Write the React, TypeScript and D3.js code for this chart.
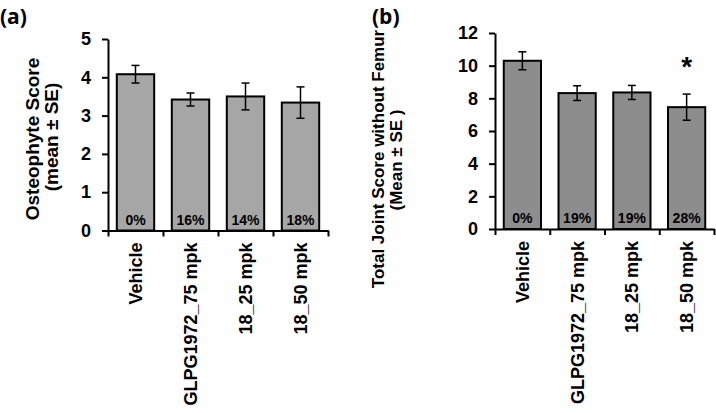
import React, { useRef, useEffect } from "react";
import * as d3 from "d3";

const categories = ["Vehicle", "GLPG1972_75 mpk", "18_25 mpk", "18_50 mpk"];

const osteoMean = [4.08, 3.42, 3.5, 3.34];
const osteoSE = [0.23, 0.17, 0.35, 0.41];
const osteoPct = ["0%", "16%", "14%", "18%"];
const osteoTicks = [0, 1, 2, 3, 4, 5];

const jointMean = [10.3, 8.32, 8.36, 7.46];
const jointSE = [0.55, 0.45, 0.43, 0.8];
const jointPct = ["0%", "19%", "19%", "28%"];
const jointTicks = [0, 2, 4, 6, 8, 10, 12];
const jointStars = ["", "", "", "*"];

const FONT = "'Liberation Sans', Arial, sans-serif";

interface PanelProps {
  tag: string;
  tagX: number;
  means: number[];
  errs: number[];
  pcts: string[];
  stars?: string[];
  ticks: number[];
  yMax: number;
  x0: number;
  x1: number;
  y0: number;
  y1: number;
  fill: string;
  labelLines: string[];
  labelX: number[];
  labelY: number[];
  labelSize: number;
}

const Panel: React.FC<PanelProps> = (p) => {
  const ref = useRef<SVGGElement | null>(null);

  useEffect(() => {
    const g = d3.select(ref.current);
    g.selectAll("*").remove();

    const x = d3.scaleBand<string>().domain(categories).range([p.x0, p.x1]).padding(0);
    const y = d3.scaleLinear().domain([0, p.yMax]).range([p.y0, p.y1]);
    const bw = x.bandwidth() * 0.68;
    const rows = categories.map((c, i) => ({ c, m: p.means[i], e: p.errs[i], pct: p.pcts[i], star: p.stars ? p.stars[i] : "" }));
    const cx = (d: any) => (x(d.c) as number) + x.bandwidth() / 2;

    // barres
    g.selectAll("rect.bar")
      .data(rows)
      .enter()
      .append("rect")
      .attr("x", (d) => cx(d) - bw / 2)
      .attr("y", (d) => y(d.m))
      .attr("width", bw)
      .attr("height", (d) => y(0) - y(d.m))
      .attr("fill", p.fill)
      .attr("stroke", "#000")
      .attr("stroke-width", 2);

    // barres d'erreur
    const eb = g.selectAll("g.err").data(rows).enter().append("g");
    eb.append("line")
      .attr("x1", cx).attr("x2", cx)
      .attr("y1", (d) => y(d.m + d.e)).attr("y2", (d) => y(d.m - d.e))
      .attr("stroke", "#000").attr("stroke-width", 1.5);
    [1, -1].forEach((s) => {
      eb.append("line")
        .attr("x1", (d) => cx(d) - 4).attr("x2", (d) => cx(d) + 4)
        .attr("y1", (d) => y(d.m + s * d.e)).attr("y2", (d) => y(d.m + s * d.e))
        .attr("stroke", "#000").attr("stroke-width", 1.5);
    });

    g.selectAll("text.pct")
      .data(rows)
      .enter()
      .append("text")
      .attr("x", cx)
      .attr("y", y(0) - 6)
      .attr("text-anchor", "middle")
      .attr("font-family", FONT)
      .attr("font-weight", "bold")
      .attr("font-size", 14)
      .text((d) => d.pct);

    g.selectAll("text.star")
      .data(rows.filter((d) => d.star))
      .enter()
      .append("text")
      .attr("x", cx)
      .attr("y", (d) => y(d.m + d.e) - 18)
      .attr("text-anchor", "middle")
      .attr("font-family", FONT)
      .attr("font-weight", "bold")
      .attr("font-size", 28)
      .text((d) => d.star);

    // axes
    const yAxis = g.append("g")
      .attr("transform", `translate(${p.x0},0)`)
      .call(
        d3.axisLeft(y).tickValues(p.ticks).tickFormat(d3.format("d"))
          .tickSize(6).tickSizeOuter(0).tickPadding(11)
      );
    const xAxis = g.append("g")
      .attr("transform", `translate(0,${p.y0})`)
      .call(
        d3.axisBottom(d3.scaleLinear().domain([0, 4]).range([p.x0, p.x1]))
          .tickValues([0, 1, 2, 3, 4]).tickSize(6).tickSizeOuter(0).tickFormat(() => "")
      );
    [yAxis, xAxis].forEach((a) => {
      a.select(".domain").attr("stroke-width", 2);
      a.selectAll(".tick line").attr("stroke-width", 2);
    });
    yAxis.selectAll("text")
      .attr("font-family", FONT)
      .attr("font-weight", "bold")
      .attr("font-size", 18)
      .attr("fill", "#000");

    g.selectAll("text.cat")
      .data(rows)
      .enter()
      .append("text")
      .attr("transform", (d) => `translate(${cx(d) + 6.5},${p.y0 + 12}) rotate(-90)`)
      .attr("text-anchor", "end")
      .attr("font-family", FONT)
      .attr("font-weight", "bold")
      .attr("font-size", 18)
      .text((d) => d.c);

    p.labelLines.forEach((t, i) => {
      g.append("text")
        .attr("transform", `translate(${p.labelX[i]},${p.labelY[i]}) rotate(-90)`)
        .attr("text-anchor", "middle")
        .attr("font-family", FONT)
        .attr("font-weight", "bold")
        .attr("font-size", p.labelSize)
        .text(t);
    });

    g.append("text")
      .attr("x", p.tagX)
      .attr("y", 24)
      .attr("font-family", "'Open Sans', sans-serif")
      .attr("font-weight", "bold")
      .attr("font-size", 21)
      .text(p.tag);
  }, [p]);

  return <g ref={ref}></g>;
};

export default function App() {
  return (
    <div style={{ position: "fixed", left: 0, top: 0 }}>
      <svg width={716} height={413} style={{ display: "block", background: "#fff" }}>
        <Panel
          tag="(a)"
          tagX={0}
          means={osteoMean}
          errs={osteoSE}
          pcts={osteoPct}
          ticks={osteoTicks}
          yMax={5}
          x0={108}
          x1={328}
          y0={230.5}
          y1={39}
          fill="#a6a6a6"
          labelLines={["Osteophyte Score", "(mean ± SE)"]}
          labelX={[39, 58]}
          labelY={[139, 137]}
          labelSize={19}
        />
        <Panel
          tag="(b)"
          tagX={372}
          means={jointMean}
          errs={jointSE}
          pcts={jointPct}
          stars={jointStars}
          ticks={jointTicks}
          yMax={12}
          x0={495}
          x1={714}
          y0={229}
          y1={33}
          fill="#8d8d8d"
          labelLines={["Total Joint Score without Femur", "(Mean ± SE )"]}
          labelX={[384, 402]}
          labelY={[159, 160]}
          labelSize={17}
        />
      </svg>
    </div>
  );
}
